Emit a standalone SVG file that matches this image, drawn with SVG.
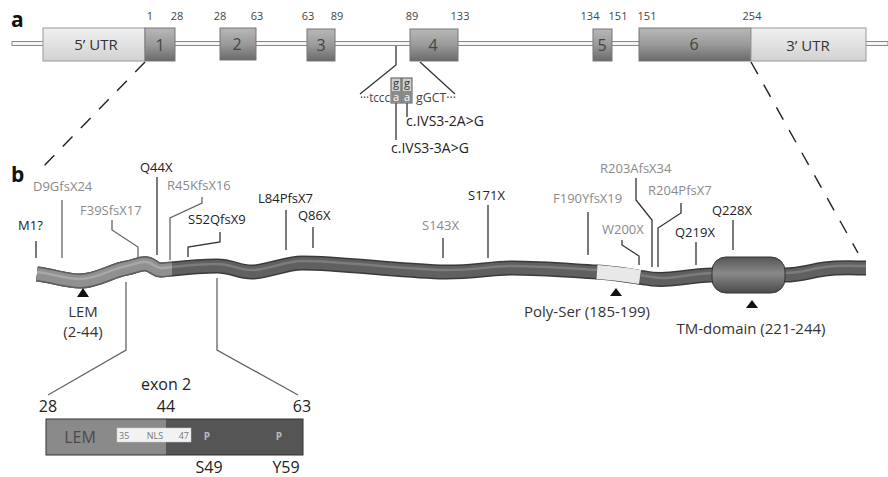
<svg xmlns="http://www.w3.org/2000/svg" width="888" height="477" viewBox="0 0 888 477">
<defs>
<linearGradient id="exg" x1="0" y1="0" x2="0" y2="1">
<stop offset="0" stop-color="#b8b8b8"/><stop offset="0.5" stop-color="#9a9a9a"/><stop offset="1" stop-color="#6a6a6a"/>
</linearGradient>
<linearGradient id="utrg" x1="0" y1="0" x2="0" y2="1">
<stop offset="0" stop-color="#f0f0f0"/><stop offset="1" stop-color="#d2d2d2"/>
</linearGradient>
<linearGradient id="barrel" x1="0" y1="0" x2="0" y2="1">
<stop offset="0" stop-color="#555"/><stop offset="0.45" stop-color="#8a8a8a"/><stop offset="1" stop-color="#4a4a4a"/>
</linearGradient>
<style>
.t{font-family:"Open Sans","DejaVu Sans",sans-serif;}
.num{font-size:11px;fill:#444;text-anchor:middle;}
.exl{font-size:16px;fill:#444;text-anchor:middle;}
.ex{fill:url(#exg);stroke:#777;stroke-width:1;}
.utr{fill:url(#utrg);stroke:#999;stroke-width:1;}
.mk{font-size:13px;fill:#222;}
.mg{font-size:13px;fill:#8a8a8a;}
.ln{fill:none;stroke:#333;stroke-width:1.3;}
.lg{fill:none;stroke:#666;stroke-width:1.3;}
.dash{fill:none;stroke:#222;stroke-width:1.4;stroke-dasharray:14 12;}
.lab{font-size:15px;fill:#333;}
.big{font-size:16px;fill:#222;}
.tri{fill:#111;}
.ga{font-size:11px;text-anchor:middle;}
</style>
</defs>

<g id="labels">
<text class="t" x="11" y="27" font-size="21" font-weight="bold" fill="#111">a</text>
<text class="t" x="11" y="182" font-size="21" font-weight="bold" fill="#111">b</text>
</g>

<g id="connectors">
<line class="dash" x1="145" y1="62" x2="38" y2="172"/>
<line class="dash" x1="751" y1="62" x2="858" y2="253"/>
<polyline class="ln" points="396,45 396,65 360,94"/>
<line class="ln" x1="420" y1="62" x2="455" y2="94"/>
<line class="ln" x1="396" y1="103" x2="396" y2="140"/>
<line class="ln" x1="407" y1="103" x2="407" y2="117"/>
<line class="ln" x1="36" y1="241" x2="36" y2="258"/>
<line class="lg" x1="62" y1="200" x2="62" y2="258"/>
<polyline class="lg" points="112,220 112,230 138,247 138,257"/>
<line class="ln" x1="157" y1="177" x2="157" y2="255"/>
<polyline class="lg" points="202,197 202,203 170,218 170,260"/>
<polyline class="ln" points="220,232 220,242 188,247 188,257"/>
<line class="ln" x1="286" y1="210" x2="286" y2="250"/>
<line class="ln" x1="313" y1="227" x2="313" y2="248"/>
<line class="ln" x1="443" y1="238" x2="443" y2="258"/>
<line class="ln" x1="488" y1="205" x2="488" y2="258"/>
<line class="ln" x1="588" y1="212" x2="588" y2="255"/>
<polyline class="ln" points="636,178 636,200 652,220 652,267"/>
<polyline class="ln" points="681,203 681,213 658,228 658,267"/>
<polyline class="ln" points="622,240 622,245 639,256 639,265"/>
<line class="ln" x1="696" y1="242" x2="696" y2="265"/>
<line class="ln" x1="733" y1="220" x2="733" y2="250"/>
<polyline class="lg" points="126,282 126,350 48,395"/>
<polyline class="lg" points="217,278 217,350 298,395"/>
</g>

<g id="gene">
<rect x="12" y="41.5" width="876" height="4" fill="#f6f6f6" stroke="#888" stroke-width="1"/>
<g id="utr5"><rect class="utr" x="43" y="28" width="102" height="33"/><text class="t lab" x="96" y="50" text-anchor="middle" fill="#444">5’ UTR</text></g>
<g id="exon1"><rect class="ex" x="145" y="28" width="30" height="33"/><text class="t exl" x="160" y="51">1</text></g>
<g id="exon2"><rect class="ex" x="220" y="28" width="36" height="32"/><text class="t exl" x="237" y="50">2</text></g>
<g id="exon3"><rect class="ex" x="307" y="29" width="28" height="32"/><text class="t exl" x="321" y="51">3</text></g>
<g id="exon4"><rect class="ex" x="410" y="29" width="48" height="32"/><text class="t exl" x="433" y="51">4</text></g>
<g id="exon5"><rect class="ex" x="593" y="29" width="19" height="32"/><text class="t exl" x="602" y="51">5</text></g>
<g id="exon6"><rect class="ex" x="639" y="28" width="112" height="33"/><text class="t exl" x="694" y="50">6</text></g>
<g id="utr3"><rect class="utr" x="751" y="28" width="115" height="33"/><text class="t lab" x="808" y="51" text-anchor="middle" fill="#444">3’ UTR</text></g>
<g id="positions" class="t">
<text class="num" x="150" y="20">1</text>
<text class="num" x="177" y="20">28</text>
<text class="num" x="220" y="20">28</text>
<text class="num" x="257" y="20">63</text>
<text class="num" x="308" y="20">63</text>
<text class="num" x="337" y="20">89</text>
<text class="num" x="412" y="20">89</text>
<text class="num" x="460" y="20">133</text>
<text class="num" x="590" y="20">134</text>
<text class="num" x="618" y="20">151</text>
<text class="num" x="647" y="20">151</text>
<text class="num" x="752" y="20">254</text>
</g>
</g>

<g id="splice" class="t">
<text x="360" y="102" font-size="12" fill="#444" textLength="30" lengthAdjust="spacingAndGlyphs">···tccc</text>
<rect x="391" y="78" width="10" height="25" fill="#d0d0d0" stroke="#555" stroke-width="1"/>
<rect x="391.5" y="91" width="9" height="11.5" fill="#8a8a8a"/>
<rect x="402" y="78" width="10" height="25" fill="#d0d0d0" stroke="#555" stroke-width="1"/>
<rect x="402.5" y="91" width="9" height="11.5" fill="#8a8a8a"/>
<text class="ga" x="396" y="87" fill="#333">g</text>
<text class="ga" x="396" y="101" fill="#fff">a</text>
<text class="ga" x="407" y="87" fill="#333">g</text>
<text class="ga" x="407" y="101" fill="#fff">a</text>
<text x="416" y="102" font-size="12" fill="#444" textLength="40" lengthAdjust="spacingAndGlyphs">gGCT···</text>
<text x="406" y="126" font-size="14" fill="#222">c.IVS3-2A&gt;G</text>
<text x="391" y="153" font-size="14" fill="#222">c.IVS3-3A&gt;G</text>
</g>

<g id="protein">
<path d="M37,274 C55,276 65,281 80,281 C98,281 112,270 127,268 C136,266 141,263 147,264 C153,265 155,270 161,270 C166,270 168,269 172,269 C190,267 200,266 217,266 C232,266 238,272 252,272 C268,272 285,263 302,263 C340,263 390,270 440,272 C470,273 490,268 512,268 C545,268 575,271 597,272 C615,273 630,276 645,278 C655,280 665,280 680,278 C695,276 705,275 712,275 L785,275 C800,275 810,271 825,269 C840,267 855,268 866,268" fill="none" stroke="#3a3a3a" stroke-width="15"/>
<path d="M37,274 C55,276 65,281 80,281 C98,281 112,270 127,268 C136,266 141,263 147,264 C153,265 155,270 161,270 C166,270 168,269 172,269 C190,267 200,266 217,266 C232,266 238,272 252,272 C268,272 285,263 302,263 C340,263 390,270 440,272 C470,273 490,268 512,268 C545,268 575,271 597,272 C615,273 630,276 645,278 C655,280 665,280 680,278 C695,276 705,275 712,275 L785,275 C800,275 810,271 825,269 C840,267 855,268 866,268" fill="none" stroke="#606060" stroke-width="12"/>
<path d="M37,274 C55,276 65,281 80,281 C98,281 112,270 127,268 C136,266 141,263 147,264 C153,265 155,270 161,270 C166,270 168,269 172,269" fill="none" stroke="#5e5e5e" stroke-width="15"/>
<path d="M37,274 C55,276 65,281 80,281 C98,281 112,270 127,268 C136,266 141,263 147,264 C153,265 155,270 161,270 C166,270 168,269 172,269" fill="none" stroke="#909090" stroke-width="12"/>
<path d="M597,272 C612,273 627,275 640,277" fill="none" stroke="#e8e8e8" stroke-width="14"/>
<path d="M37,274 C55,276 65,281 80,281 C98,281 112,270 127,268 C136,266 141,263 147,264 C153,265 155,270 161,270 C166,270 168,269 172,269" fill="none" stroke="#a8a8a8" stroke-width="2.5" transform="translate(0,-2)"/>
<path d="M172,269 C190,267 200,266 217,266 C232,266 238,272 252,272 C268,272 285,263 302,263 C340,263 390,270 440,272 C470,273 490,268 512,268 C545,268 575,271 597,272" fill="none" stroke="#7c7c7c" stroke-width="2.5" transform="translate(0,-2)"/>
<path d="M640,277 C648,278 655,280 665,280 C675,280 690,276 712,275 M785,275 C800,275 810,271 825,269 C840,267 855,268 866,268" fill="none" stroke="#7c7c7c" stroke-width="2.5" transform="translate(0,-2)"/>
<rect x="712" y="257" width="73" height="36" rx="14" ry="14" fill="url(#barrel)" stroke="#333" stroke-width="1"/>
</g>

<g id="mutations" class="t">
<text class="mk" x="18" y="230">M1?</text>
<text class="mg" x="33" y="191">D9GfsX24</text>
<text class="mg" x="80" y="215">F39SfsX17</text>
<text class="mk" x="140" y="172">Q44X</text>
<text class="mg" x="167" y="190">R45KfsX16</text>
<text class="mk" x="188" y="224">S52QfsX9</text>
<text class="mk" x="258" y="203">L84PfsX7</text>
<text class="mk" x="298" y="220">Q86X</text>
<text class="mg" x="422" y="230">S143X</text>
<text class="mk" x="468" y="200">S171X</text>
<text class="mg" x="553" y="203">F190YfsX19</text>
<text class="mg" x="600" y="173">R203AfsX34</text>
<text class="mg" x="648" y="195">R204PfsX7</text>
<text class="mg" x="602" y="234">W200X</text>
<text class="mk" x="675" y="237">Q219X</text>
<text class="mk" x="712" y="215">Q228X</text>
</g>

<g id="domains" class="t">
<polygon class="tri" points="83,288 77,297 89,297"/>
<text class="lab" x="83" y="317" text-anchor="middle">LEM</text>
<text class="lab" x="83" y="337" text-anchor="middle">(2-44)</text>
<polygon class="tri" points="616,288 610,296 622,296"/>
<text class="lab" x="587" y="317" text-anchor="middle">Poly-Ser (185-199)</text>
<polygon class="tri" points="752,300 746,308 758,308"/>
<text class="lab" x="751" y="334" text-anchor="middle">TM-domain (221-244)</text>
</g>

<g id="exon2detail" class="t">
<text class="big" x="166" y="390" text-anchor="middle" fill="#333">exon 2</text>
<text class="big" x="48" y="412" text-anchor="middle">28</text>
<text class="big" x="166" y="412" text-anchor="middle">44</text>
<text class="big" x="302" y="412" text-anchor="middle">63</text>
<rect x="46" y="419" width="120" height="36" fill="#8a8a8a"/>
<rect x="166" y="419" width="137" height="36" fill="#555"/>
<rect x="46" y="419" width="257" height="36" fill="none" stroke="#333" stroke-width="1"/>
<rect x="117" y="428" width="74" height="14" fill="#f2f2f2" stroke="#ccc" stroke-width="0.5"/>
<text x="119" y="439" font-size="9" fill="#777">35</text>
<text x="155" y="439" font-size="9" fill="#777" text-anchor="middle">NLS</text>
<text x="189" y="439" font-size="9" fill="#777" text-anchor="end">47</text>
<text x="80" y="443" font-size="16" fill="#4a4a4a" text-anchor="middle">LEM</text>
<text x="207" y="440" font-size="10" font-weight="bold" fill="#bbb" text-anchor="middle">P</text>
<text x="279" y="440" font-size="10" font-weight="bold" fill="#bbb" text-anchor="middle">P</text>
<text class="big" x="209" y="473" text-anchor="middle">S49</text>
<text class="big" x="286" y="473" text-anchor="middle">Y59</text>
</g>
</svg>
